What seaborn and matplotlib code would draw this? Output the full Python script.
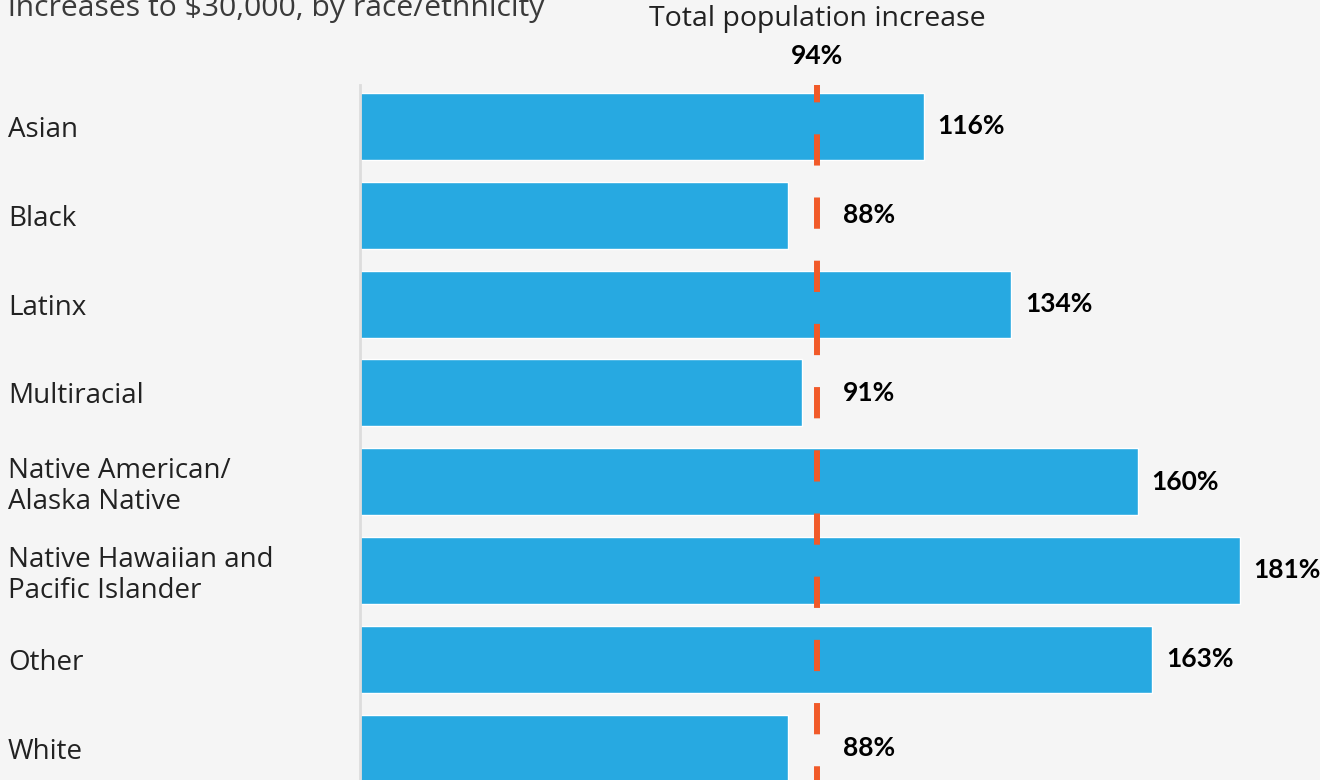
import matplotlib
matplotlib.use("Agg")
import matplotlib.pyplot as plt
import matplotlib.transforms as mtransforms
import seaborn as sns
import pandas as pd

categories = ["Asian", "Black", "Latinx", "Multiracial",
              "Native American/\nAlaska Native",
              "Native Hawaiian and\nPacific Islander", "Other", "White"]
values = [116, 88, 134, 91, 160, 181, 163, 88]
value_labels = ["116%", "88%", "134%", "91%", "160%", "181%", "163%", "88%"]
total_increase = 94
total_label = "94%"
title_text = "increases to $30,000, by race/ethnicity"
ref_title = "Total population increase"

BG = "#f5f5f5"
BAR = "#27a9e1"
LINE = "#f15a29"
TXT = "#222222"

sns.set_theme(style="white")
plt.rcParams["font.family"] = ["Open Sans", "DejaVu Sans"]
plt.rcParams["lines.scale_dashes"] = False
BOLD_FONT = ["Lato", "DejaVu Sans"]

df = pd.DataFrame({"category": categories, "value": values})

fig = plt.figure(figsize=(13.2, 7.8), dpi=100, facecolor=BG)
W, H = 1320, 780
ax = fig.add_axes([360 / W, 0, 1 - 360 / W, 1 - 85 / H])
ax.set_facecolor(BG)

sns.barplot(data=df, x="value", y="category", color=BAR, width=0.755,
            saturation=1, ax=ax, zorder=2)

xmax = (W - 360) / 4.86
ax.set_xlim(0, xmax)
ytop = -0.467
ybot = (780 - 126.5) / 88.8
ax.set_ylim(ybot, ytop)

# reference dashed line at total increase
ax.plot([total_increase, total_increase], [ytop, ybot], color=LINE, lw=4.3,
        linestyle=(10, (22.5, 23)), solid_capstyle="butt", zorder=3,
        clip_on=False)

# value labels
for i, (v, lab) in enumerate(zip(values, value_labels)):
    if v < total_increase + 5:
        x, pad = total_increase, 19
    else:
        x, pad = v, 10
    ax.annotate(lab, xy=(x, i), xytext=(pad, 0), textcoords="offset points",
                ha="left", va="center", fontsize=19, fontweight="bold",
                family=BOLD_FONT, color="black")

# reference line labels
trans = mtransforms.blended_transform_factory(ax.transData, fig.transFigure)
fig.text(total_increase, 1 - 26 / H, ref_title, transform=trans,
         ha="center", va="baseline", fontsize=20.5, color=TXT)
fig.text(total_increase, 1 - 64 / H, total_label, transform=trans,
         ha="center", va="baseline", fontsize=19, fontweight="bold",
         family=BOLD_FONT, color="black")

fig.text(8 / W, 1 - 16 / H, title_text, ha="left", va="baseline",
         fontsize=21.7, color="#3a3a3a")

# axes styling
for s in ["top", "right", "bottom"]:
    ax.spines[s].set_visible(False)
ax.spines["left"].set_color("#dddddd")
ax.spines["left"].set_linewidth(2)
ax.set_xlabel("")
ax.set_ylabel("")
ax.set_xticks([])
ax.tick_params(axis="y", length=0, pad=352 * 0.72, labelsize=20,
               labelcolor=TXT)
for t in ax.get_yticklabels():
    t.set_horizontalalignment("left")
    t.set_linespacing(1.15)

fig.savefig("out.png", dpi=100, facecolor=BG)
